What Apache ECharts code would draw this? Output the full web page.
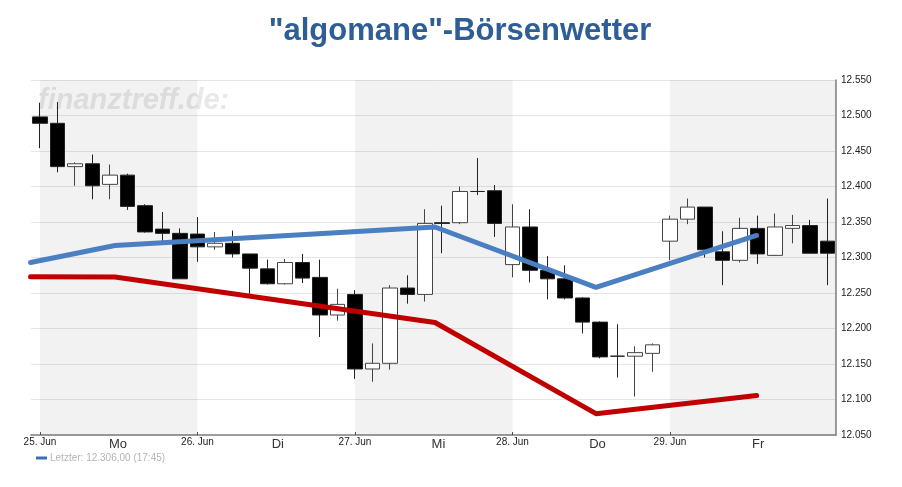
<!DOCTYPE html>
<html>
<head>
<meta charset="utf-8">
<title>algomane Börsenwetter</title>
<script src="https://cdn.jsdelivr.net/npm/echarts@6/dist/echarts.min.js"></script>
<style>
html, body { margin: 0; padding: 0; background: #fff; }
#chart { width: 902px; height: 487px; }
</style>
</head>
<body>
<div id="chart"></div>
<script>
// Kerzen: [open, close, low, high]
var candles = [
	[12498, 12489, 12454, 12518], [12489, 12428, 12420, 12519], [12428, 12432, 12401, 12434],
	[12432, 12401, 12382, 12445], [12403, 12416, 12382, 12431], [12416, 12372, 12367, 12418],
	[12373, 12336, 12335, 12375], [12340, 12334, 12323, 12364], [12334, 12270, 12270, 12341],
	[12333, 12315, 12294, 12357], [12315, 12320, 12311, 12336], [12320, 12305, 12300, 12338],
	[12305, 12285, 12249, 12305], [12284, 12263, 12262, 12297], [12263, 12293, 12262, 12298],
	[12293, 12271, 12264, 12305], [12272, 12219, 12188, 12297], [12219, 12234, 12211, 12256],
	[12248, 12143, 12129, 12254], [12143, 12151, 12125, 12179], [12151, 12257, 12142, 12261],
	[12257, 12248, 12235, 12275], [12248, 12348, 12238, 12368], [12349, 12348, 12306, 12373],
	[12349, 12393, 12347, 12400], [12393, 12393, 12388, 12440], [12394, 12348, 12329, 12402],
	[12290, 12343, 12272, 12375], [12343, 12282, 12265, 12368], [12282, 12270, 12241, 12302],
	[12270, 12243, 12241, 12289], [12243, 12209, 12193, 12244], [12209, 12160, 12158, 12210],
	[12161, 12161, 12131, 12206], [12161, 12166, 12104, 12175], [12165, 12177, 12139, 12179],
	[12323, 12354, 12296, 12359], [12354, 12371, 12347, 12383], [12371, 12311, 12300, 12371],
	[12308, 12296, 12261, 12337], [12296, 12341, 12293, 12356], [12341, 12305, 12291, 12359],
	[12303, 12343, 12302, 12362], [12341, 12345, 12320, 12360], [12345, 12306, 12306, 12353],
	[12323, 12306, 12261, 12383]
];
var candleNames = candles.map(function(c, i) { return i; });

// Linien: Position in Tagen ab 25. Jun
var blueLine = [[-0.06, 12293], [0.476, 12317], [2.508, 12343], [3.53, 12258], [4.55, 12331]];
var redLine = [[-0.06, 12273], [0.476, 12272.5], [2.508, 12208.5], [3.53, 12080], [4.55, 12105.5]];

var dayTicks = [0, 1, 2, 3, 4];
var dayLabels = ['25. Jun', '26. Jun', '27. Jun', '28. Jun', '29. Jun'];
var weekTicks = [0.495, 1.51, 2.53, 3.54, 4.56];
var weekLabels = ['Mo', 'Di', 'Mi', 'Do', 'Fr'];
var shadedDays = [[0, 1], [2, 3], [4, 5.054]];
var legendText = 'Letzter: 12.306,00 (17:45)';

var FONT = '"Liberation Sans", Arial, sans-serif';
var dayMin = -0.0571, dayMax = 5.054;

var myChart = echarts.init(document.getElementById('chart'), null, { renderer: 'canvas' });
var option = {
	animation: false,
	backgroundColor: '#fff',
	title: {
		text: '"algomane"-Börsenwetter',
		left: 455,
		top: 11,
		textAlign: 'center',
		textStyle: { fontFamily: FONT, fontSize: 31, fontWeight: 'bold', color: '#2f5d95' }
	},
	graphic: [{
		type: 'text',
		left: 38,
		top: 86,
		z: 1,
		silent: true,
		style: {
			text: 'finanztreff.de:',
			font: 'italic bold 29px ' + FONT,
			fill: '#e8e8e8'
		}
	}],
	legend: {
		left: 36,
		top: 453,
		padding: 0,
		icon: 'rect',
		itemWidth: 11,
		itemHeight: 3,
		itemGap: 4,
		selectedMode: false,
		data: [{ name: legendText, itemStyle: { color: '#3a6fb5' } }],
		textStyle: { fontFamily: FONT, fontSize: 10, color: '#b4b4b4', padding: [0, 0, 0, -2] }
	},
	grid: { left: 31, right: 66, top: 80, bottom: 52 },
	xAxis: [{
		type: 'category',
		data: candleNames,
		axisLine: { lineStyle: { color: '#808080', width: 1.5 } },
		axisTick: { show: false },
		axisLabel: { show: false },
		splitLine: { show: false }
	}, {
		type: 'value',
		position: 'bottom',
		min: dayMin,
		max: dayMax,
		axisLine: { show: false },
		axisTick: { show: true, customValues: dayTicks, length: 3, inside: true, lineStyle: { color: '#555' } },
		axisLabel: {
			customValues: dayTicks,
			margin: 2,
			fontFamily: FONT,
			fontSize: 10,
			color: '#222',
			formatter: function(value) { return dayLabels[dayTicks.indexOf(value)]; }
		},
		splitLine: { show: false }
	}, {
		type: 'value',
		position: 'bottom',
		min: dayMin,
		max: dayMax,
		axisLine: { show: false },
		axisTick: { show: false },
		axisLabel: {
			customValues: weekTicks,
			margin: 3,
			fontFamily: FONT,
			fontSize: 13,
			color: '#333',
			formatter: function(value) { return weekLabels[weekTicks.indexOf(value)]; }
		},
		splitLine: { show: false }
	}],
	yAxis: {
		type: 'value',
		position: 'right',
		min: 12050,
		max: 12550,
		interval: 50,
		axisLine: { show: true, onZero: false, lineStyle: { color: '#808080', width: 1.5 } },
		axisTick: { show: false },
		axisLabel: {
			margin: 5,
			fontFamily: FONT,
			fontSize: 10,
			color: '#222',
			formatter: function(value) { return '12.' + ('000' + (value - 12000)).slice(-3); }
		},
		splitLine: { show: true, lineStyle: { color: '#e6e6e6', width: 1 } }
	},
	series: [{
		name: 'Kurs',
		type: 'candlestick',
		xAxisIndex: 0,
		barWidth: 15,
		z: 3,
		itemStyle: {
			color: '#fff',
			color0: '#000',
			borderColor: '#444',
			borderColor0: '#222',
			borderColorDoji: '#222',
			borderWidth: 1
		},
		data: candles
	}, {
		name: legendText,
		type: 'line',
		xAxisIndex: 1,
		clip: false,
		z: 5,
		symbol: 'none',
		lineStyle: { color: '#4a7fc1', width: 5, cap: 'round', join: 'round' },
		itemStyle: { color: '#3a6fb5' },
		markArea: {
			silent: true,
			z: 1,
			itemStyle: { color: 'rgba(0,0,0,0.05)' },
			data: shadedDays.map(function(d) { return [{ xAxis: d[0] }, { xAxis: d[1] }]; })
		},
		data: blueLine
	}, {
		name: 'Linie rot',
		type: 'line',
		xAxisIndex: 1,
		clip: false,
		z: 5,
		symbol: 'none',
		lineStyle: { color: '#c00000', width: 5, cap: 'round', join: 'round' },
		data: redLine
	}]
};
myChart.setOption(option);
window.onresize = myChart.resize;
</script>
</body>
</html>
